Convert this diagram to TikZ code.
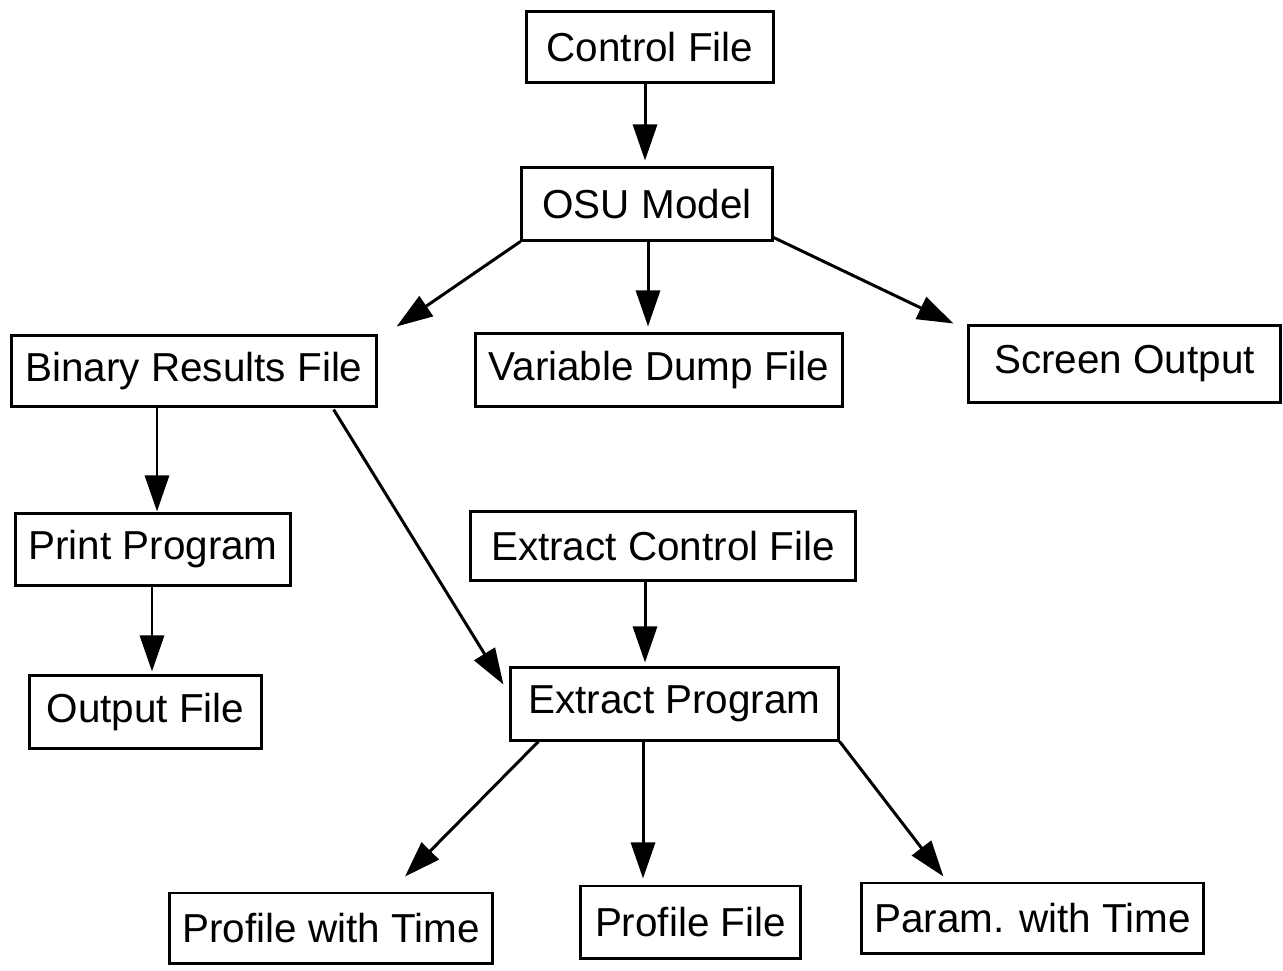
\documentclass[tikz,border=0pt]{standalone}
\usepackage{fontspec}
\setmainfont{Liberation Sans}
\usetikzlibrary{arrows.meta,calc}
\begin{document}
\begin{tikzpicture}[x=0.01cm,y=-0.01cm,
 box/.style={draw,line width=0.85pt,inner sep=0pt,font=\fontsize{11.5}{13}\selectfont},
 arr/.style={line width=0.85pt,-{Triangle[length=0.36cm,width=0.24cm]}}]
\useasboundingbox (0,0) rectangle (1283,970);
\node[box,minimum width=2.46cm,minimum height=0.70cm] (ctrl)  at (650,47)    {Control File};
\node[box,minimum width=2.50cm,minimum height=0.72cm] (osu)   at (647,204)   {OSU Model};
\node[box,minimum width=3.64cm,minimum height=0.70cm] (bin)   at (194,371)   {Binary Results File};
\node[box,minimum width=3.66cm,minimum height=0.72cm] (var)   at (659,370)   {Variable Dump File};
\node[box,minimum width=3.11cm,minimum height=0.76cm] (scr)   at (1124.5,364){Screen Output};
\node[box,minimum width=2.74cm,minimum height=0.71cm] (print) at (153,549.5) {Print Program};
\node[box,minimum width=3.84cm,minimum height=0.68cm] (xctrl) at (663,546)   {Extract Control File};
\node[box,minimum width=2.31cm,minimum height=0.72cm] (out)   at (145.5,712) {Output File};
\node[box,minimum width=3.27cm,minimum height=0.72cm] (xprog) at (674.5,704) {Extract Program};
\node[box,minimum width=3.22cm,minimum height=0.70cm] (pwt)   at (331,928)   {Profile with Time};
\node[box,minimum width=2.19cm,minimum height=0.72cm] (pf)    at (690.5,922) {Profile File};
\node[box,minimum width=3.41cm,minimum height=0.70cm] (param) at (1032.5,918){Param. with Time};

\draw[arr] ($(ctrl.south)+(-5,0)$) -- ($(osu.north)+(-2,-6)$);
\draw[arr] (osu.south west) -- ($(bin.north east)+(19,-8)$);
\draw[arr] ($(osu.south)+(1,0)$) -- ($(var.north)+(-11,-6)$);
\draw[arr] ($(osu.south east)+(0,-4)$) -- ($(scr.north west)+(-14,-1)$);
\draw[arr] ($(bin.south)+(-37,0)$) -- ($(print.north)+(4,-1)$);
\draw[arr] ($(bin.south east)+(-44,2)$) -- ($(xprog.north west)+(-6,18)$);
\draw[arr] ($(print.south)+(-1,0)$) -- ($(out.north)+(6.5,-3)$);
\draw[arr] ($(xctrl.south)+(-18,0)$) -- ($(xprog.north)+(-29.5,-4)$);
\draw[arr] ($(xprog.south west)+(29,0)$) -- ($(pwt.north)+(74,-15)$);
\draw[arr] ($(xprog.south)+(-31.5,0)$) -- ($(pf.north)+(-47.5,-6)$);
\draw[arr] (xprog.south east) -- ($(param.north west)+(83,-5)$);
\end{tikzpicture}
\end{document}
